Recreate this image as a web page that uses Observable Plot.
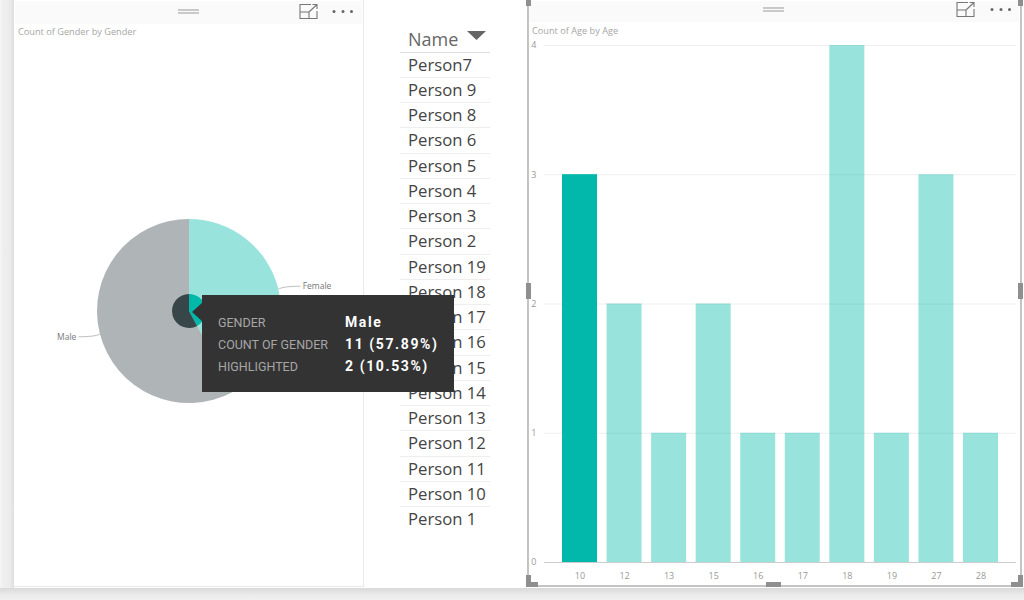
<!DOCTYPE html>
<html>
<head>
<meta charset="utf-8">
<script src="https://cdn.jsdelivr.net/npm/d3@7"></script>
<script src="https://cdn.jsdelivr.net/npm/@observablehq/plot@0.6"></script>
<style>
html,body{margin:0;padding:0;width:1024px;height:600px;overflow:hidden;background:#fff;font-family:"Open Sans",sans-serif}
.abs{position:absolute}
#shadowL{left:0;top:0;width:14px;height:590px;background:linear-gradient(to right,#f6f6f6 0,#f0f0f0 2px,#ebebeb 10px,#dedede 14px)}
#shadowB{left:0;top:588px;width:1024px;height:12px;background:linear-gradient(to bottom,#d9d9d9 0,#e9e9e9 6px,#f1f1f1 12px)}
#panelL{left:14px;top:0;width:349px;height:586px;border-right:1px solid #e9e9e9;border-bottom:1px solid #e9e9e9;background:#fff}
.bar{background:#fafafa}
.title{font-size:9.2px;color:#a6a6a6;white-space:nowrap;font-family:"Open Sans",sans-serif}
.row{left:400px;width:90px;height:24.3px;border-bottom:1px solid #eee;color:#444;font-size:16.7px;line-height:23px;padding:0;text-indent:8px;white-space:nowrap}
#tip{left:202px;top:295px;width:252px;height:97px;background:#333;font-family:Roboto,sans-serif;font-size:12.5px}
#tipArrow{left:192px;top:302px;width:11px;height:20px;background:#333;clip-path:polygon(100% 0,0 50%,100% 100%)}
.tl{left:16px;color:#a6a6a6;white-space:nowrap}
.tv{left:143px;color:#fff;font-weight:700;font-size:14px;letter-spacing:1.6px;white-space:nowrap}
</style>
</head>
<body>
<div id="page"></div>
<script>
const genders = ["Female", "Male"];
const genderCounts = [8, 11];
const genderHighlighted = [1, 2];
const ages = ["10", "12", "13", "15", "16", "17", "18", "19", "27", "28"];
const ageCounts = [3, 2, 1, 2, 1, 1, 4, 1, 3, 1];
const ageHighlighted = [3, 0, 0, 0, 0, 0, 0, 0, 0, 0];
const names = ["Person7", "Person 9", "Person 8", "Person 6", "Person 5", "Person 4", "Person 3", "Person 2", "Person 19", "Person 18", "Person 17", "Person 16", "Person 15", "Person 14", "Person 13", "Person 12", "Person 11", "Person 10", "Person 1"];
const tooltipLabels = ["GENDER", "COUNT OF GENDER", "HIGHLIGHTED"];
const tooltipValues = ["Male", "11 (57.89%)", "2 (10.53%)"];
const yTicks = [0, 1, 2, 3, 4];
const teal = "#01B8AA", slate = "#374649";
const genderColors = {Female: teal, Male: slate};

const page = document.getElementById("page");
function el(html){const t=document.createElement("template");t.innerHTML=html.trim();const n=t.content.firstChild;page.appendChild(n);return n;}

el('<div class="abs" id="shadowL"></div>');
el('<div class="abs" id="shadowB"></div>');
el('<div class="abs" id="panelL"></div>');
el('<div class="abs bar" style="left:15px;top:1px;width:347px;height:23px"></div>');
el('<div class="abs bar" style="left:529px;top:1px;width:490px;height:21px"></div>');

function chrome(dragX,dragY,iconX,iconY,dotsX,dotsY){
  el(`<svg class="abs" style="left:${dragX}px;top:${dragY}px" width="22" height="6"><path d="M0 1H21M0 4H21" stroke="#999" stroke-width="1"/></svg>`);
  el(`<svg class="abs" style="left:${iconX}px;top:${iconY}px" width="20" height="17" fill="none" stroke="#777" stroke-width="1.1"><path d="M12 1.5H1V15.5H18V8M1 9H10V15.5M10 9L18 1.5M13.5 1.5H18V6"/></svg>`);
  el(`<svg class="abs" style="left:${dotsX}px;top:${dotsY}px" width="22" height="5" fill="#666"><circle cx="2" cy="2.5" r="1.5"/><circle cx="11" cy="2.5" r="1.5"/><circle cx="19.5" cy="2.5" r="1.5"/></svg>`);
}
chrome(178,9,299,3,332,9);
chrome(763,7,956,1,990,7);

el('<div class="abs title" style="left:18px;top:25px">Count of Gender by Gender</div>');
el('<div class="abs title" style="left:532px;top:24px">Count of Age by Age</div>');

// Pie (left)
const pieData = genders.map((g,i)=>({gender:g,count:genderCounts[i],highlighted:genderHighlighted[i]}));
const arcs = d3.pie().sort(null).value(d=>d.count)(pieData);
const innerR = 17/92;
const pieMark = (index,{x,y})=>{
  const r = x(1)-x(0), g = d3.create("svg:g").attr("transform",`translate(${x(0)},${y(0)})`);
  for (const a of arcs) g.append("path").attr("d",d3.arc().innerRadius(0).outerRadius(r)(a)).attr("fill",genderColors[a.data.gender]).attr("fill-opacity",0.4);
  for (const a of arcs) g.append("path").attr("d",d3.arc().innerRadius(0).outerRadius(r*innerR)(a)).attr("fill",genderColors[a.data.gender]);
  return g.node();
};
const mid = a=>(a.startAngle+a.endAngle)/2;
const leaders = arcs.flatMap(a=>{
  const s=Math.sin(mid(a)),c=Math.cos(mid(a)),k=Math.sign(s);
  return [{g:a.data.gender,x:s*1.0,y:c},{g:a.data.gender,x:s*1.07,y:c*1.1},{g:a.data.gender,x:k*1.2,y:c*1.12}];
});
const labels = arcs.map(a=>({g:a.data.gender,x:Math.sign(Math.sin(mid(a)))*1.23,y:Math.cos(mid(a))*1.12}));
const textOpts = {x:"x",y:"y",text:"g",fontSize:8.5,fill:"#777",fontFamily:"'Open Sans',sans-serif"};
const pie = Plot.plot({
  width:349,height:562,margin:0,
  x:{domain:[-1,1],range:[83,267],axis:null},
  y:{domain:[-1,1],range:[379,195],axis:null},
  marks:[
    pieMark,
    Plot.line(leaders,{x:"x",y:"y",z:"g",stroke:"#bdbdbd",strokeWidth:1,curve:"basis"}),
    Plot.text(labels.filter(d=>d.x>0),{...textOpts,textAnchor:"start"}),
    Plot.text(labels.filter(d=>d.x<0),{...textOpts,textAnchor:"end"})
  ]
});
pie.classList.add("abs");pie.style.left="14px";pie.style.top="24px";pie.style.background="transparent";
page.appendChild(pie);

// Table
el('<div class="abs" style="left:400px;top:27px;width:90px;height:25px;border-bottom:1px solid #ddd;color:#666;font-size:18px;line-height:25px;text-indent:8px">Name</div>');
el('<svg class="abs" style="left:467px;top:31px" width="20" height="10"><path d="M0 0H19L9.5 9Z" fill="#666"/></svg>');
names.forEach((n,i)=>{
  const r=el('<div class="abs row"></div>');
  r.textContent=n;
  r.style.top=(52.5+i*25.26)+"px";
  if(i===names.length-1) r.style.borderBottom="none";
});

// Bars (right)
const table = ages.map((a,i)=>({age:a,count:ageCounts[i],highlighted:ageHighlighted[i]}));
const bars = Plot.plot({
  width:496,height:590,marginLeft:16,marginRight:8,marginTop:45,marginBottom:28,
  x:{domain:ages,paddingInner:0.214,paddingOuter:0.404,round:false,label:null},
  y:{domain:[0,4],label:null},
  marks:[
    Plot.ruleY(yTicks.slice(1),{stroke:"#eeeeee",strokeWidth:1}),
    Plot.ruleY([0],{stroke:"#cccccc",strokeWidth:1}),
    Plot.barY(table,{x:"age",y:"count",fill:teal,fillOpacity:0.4}),
    Plot.barY(table,{x:"age",y:"highlighted",fill:teal}),
    Plot.axisY({ticks:yTicks,tickSize:0,tickPadding:8,tickFormat:d=>String(d),fontSize:9,color:"#999",fontFamily:"'Open Sans',sans-serif",label:null}),
    Plot.axisX({tickSize:0,tickPadding:10,fontSize:9,color:"#999",fontFamily:"'Open Sans',sans-serif",label:null})
  ]
});
bars.classList.add("abs");bars.style.left="528px";bars.style.top="0";bars.style.background="transparent";
page.appendChild(bars);

// Selection frame
const frameColor="#c4c4c4", handle="#8f8f8f";
el(`<div class="abs" style="left:527px;top:0;width:1.5px;height:586px;background:${frameColor}"></div>`);
el(`<div class="abs" style="left:1020px;top:0;width:1.5px;height:586px;background:${frameColor}"></div>`);
el(`<div class="abs" style="left:527px;top:585px;width:494px;height:1.5px;background:${frameColor}"></div>`);
el(`<div class="abs" style="left:526px;top:0;width:5px;height:6px;background:${handle}"></div>`);
el(`<div class="abs" style="left:1018px;top:0;width:5px;height:6px;background:${handle}"></div>`);
el(`<div class="abs" style="left:526px;top:283px;width:5px;height:16px;background:${handle}"></div>`);
el(`<div class="abs" style="left:1018px;top:283px;width:5px;height:16px;background:${handle}"></div>`);
el(`<div class="abs" style="left:766px;top:582px;width:15px;height:5px;background:${handle}"></div>`);
el(`<svg class="abs" style="left:525px;top:574px" width="14" height="14"><path d="M1 1H6V8H13V13H1Z" fill="${handle}"/></svg>`);
el(`<svg class="abs" style="left:1010px;top:574px" width="14" height="14"><path d="M13 1H8V8H1V13H13Z" fill="${handle}"/></svg>`);

// Tooltip
el('<div class="abs" id="tipArrow"></div>');
const tip=el('<div class="abs" id="tip"></div>');
[20,42,64].forEach((t,i)=>{
  const a=document.createElement("div");a.className="abs tl";a.style.top=t+"px";a.textContent=tooltipLabels[i];tip.appendChild(a);
  const b=document.createElement("div");b.className="abs tv";b.style.top=(t-1)+"px";b.textContent=tooltipValues[i];tip.appendChild(b);
});
</script>
</body>
</html>
